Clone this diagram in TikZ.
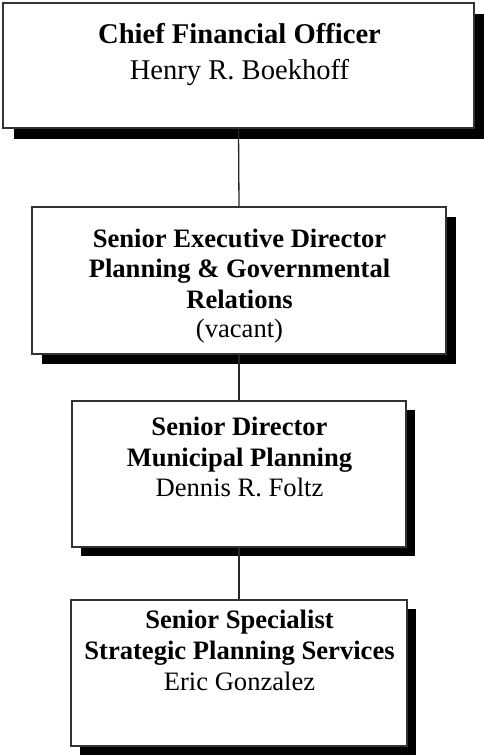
\documentclass[tikz,border=0pt]{standalone}
\usepackage{fontspec}
\setmainfont{Liberation Serif}
\usetikzlibrary{shadows}
\begin{document}
\begin{tikzpicture}[x=1pt,y=-1pt,
  box/.style={draw=black!80,line width=1.3pt,fill=white,rectangle,inner sep=0pt,
    drop shadow={shadow xshift=#1,shadow yshift=-#1,opacity=1,fill=black}},
  conn/.style={draw=black!85,line width=1.3pt},
  bigt/.style={anchor=base,inner sep=0pt,font=\fontsize{28.6}{34}\selectfont\bfseries},
  bign/.style={anchor=base,inner sep=0pt,font=\fontsize{28.6}{34}\selectfont},
  ttl/.style={anchor=base,inner sep=0pt,font=\fontsize{26.6}{30}\selectfont\bfseries},
  nm/.style={anchor=base,inner sep=0pt,font=\fontsize{26.6}{30}\selectfont}]
\useasboundingbox (0,0) rectangle (483,755);
% boxes
\node[box=11pt,minimum width=471pt,minimum height=125pt] (b1) at (238.5,65.5) {};
\node[box=10pt,minimum width=414pt,minimum height=147pt] (b2) at (239,280.5) {};
\node[box=9pt,minimum width=334pt,minimum height=146pt] (b3) at (239,474) {};
\node[box=9pt,minimum width=336pt,minimum height=146pt] (b4) at (239,673) {};
% connectors
\draw[conn] (b1.south) -- (b2.north);
\draw[conn] (b2.south) -- (b3.north);
\draw[conn] (b3.south) -- (b4.north);
% texts
\node[bigt] (t1a) at (239.5,43) {Chief Financial Officer};
\node[bign] (t1b) at (239.5,79) {Henry R. Boekhoff};
\node[ttl] (t2a) at (239.5,247) {Senior Executive Director};
\node[ttl] (t2b) at (239.5,277) {Planning \& Governmental};
\node[ttl] (t2c) at (239.5,308) {Relations};
\node[nm] (t2d) at (239.5,337) {(vacant)};
\node[ttl] (t3a) at (239.5,435) {Senior Director};
\node[ttl] (t3b) at (239.5,466) {Municipal Planning};
\node[nm] (t3c) at (239.5,496) {Dennis R. Foltz};
\node[ttl] (t4a) at (239.5,628) {Senior Specialist};
\node[ttl] (t4b) at (239.5,659) {Strategic Planning Services};
\node[nm] (t4c) at (239.5,690) {Eric Gonzalez};
\end{tikzpicture}
\end{document}
